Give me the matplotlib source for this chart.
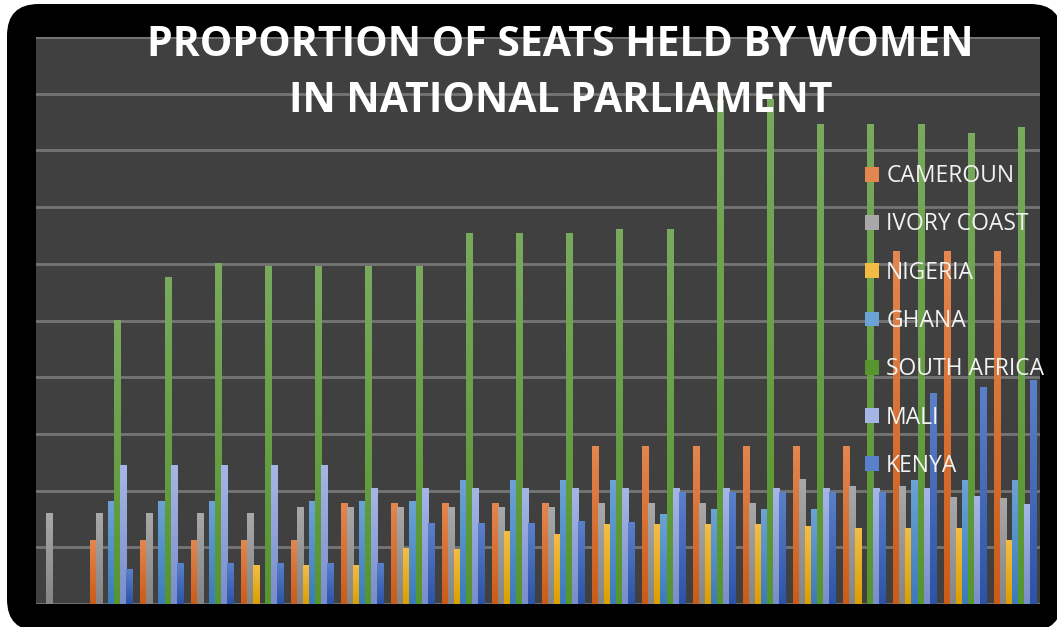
import numpy as np
import matplotlib
matplotlib.use("Agg")
import matplotlib.pyplot as plt
from matplotlib import font_manager
from matplotlib.colors import LinearSegmentedColormap
from matplotlib.patches import FancyBboxPatch, Patch

# Data (percent of seats held by women)
years = list(range(1997, 2017))
countries = ["CAMEROUN", "IVORY COAST", "NIGERIA", "GHANA", "SOUTH AFRICA", "MALI", "KENYA"]

cameroun = [0, 5.6, 5.6, 5.6, 5.6, 5.6, 8.9, 8.9, 8.9, 8.9, 8.9, 13.9, 13.9, 13.9, 13.9, 13.9, 13.9, 31.1, 31.1, 31.1]
ivory_coast = [8.0, 8.0, 8.0, 8.0, 8.0, 8.5, 8.5, 8.5, 8.5, 8.5, 8.5, 8.9, 8.9, 8.9, 8.9, 11.0, 10.4, 10.4, 9.4, 9.3]
nigeria = [0, 0, 0, 0, 3.4, 3.4, 3.4, 4.9, 4.8, 6.4, 6.1, 7.0, 7.0, 7.0, 7.0, 6.8, 6.7, 6.7, 6.7, 5.6]
ghana = [0, 9.0, 9.0, 9.0, 0, 9.0, 9.0, 9.0, 10.9, 10.9, 10.9, 10.9, 7.9, 8.3, 8.3, 8.3, 0, 10.9, 10.9, 10.9]
south_africa = [0, 25.0, 28.8, 30.0, 29.8, 29.8, 29.8, 29.8, 32.7, 32.7, 32.7, 33.0, 33.0, 44.4, 44.5, 42.3, 42.3, 42.3, 41.5, 42.0]
mali = [0, 12.2, 12.2, 12.2, 12.2, 12.2, 10.2, 10.2, 10.2, 10.2, 10.2, 10.2, 10.2, 10.2, 10.2, 10.2, 10.2, 10.2, 9.5, 8.8]
kenya = [0, 3.0, 3.6, 3.6, 3.6, 3.6, 3.6, 7.1, 7.1, 7.1, 7.3, 7.2, 9.8, 9.8, 9.8, 9.8, 9.8, 18.6, 19.1, 19.7]

series = [cameroun, ivory_coast, nigeria, ghana, south_africa, mali, kenya]

# (top, bottom) colours of each bar gradient
bar_colors = [
    ("#e3864f", "#cc5b18"),
    ("#a8a8a8", "#858585"),
    ("#f3bd45", "#dc9f00"),
    ("#6ca3d6", "#3b7bbb"),
    ("#79aa5d", "#57952f"),
    ("#a5b6e6", "#7a8dcb"),
    ("#5b80cb", "#2c53a6"),
]

# pick a narrow bold font for the title if one is around
font_names = {f.name for f in font_manager.fontManager.ttflist}
if "Liberation Sans Narrow" in font_names:
    title_font, title_size = "Liberation Sans Narrow", 34
else:
    title_font, title_size = "Open Sans", 29.5

fig = plt.figure(figsize=(10.57, 6.27), dpi=100, facecolor="white")

# black rounded frame behind the chart (white shows in the corners)
W, H = 1057, 627
frame = FancyBboxPatch((7 / W, -4 / H), (1062 - 7) / W, (623 + 4) / H,
                       boxstyle="round,pad=0,rounding_size=0.03",
                       transform=fig.transFigure, facecolor="black",
                       edgecolor="none", mutation_aspect=W / H, zorder=-10)
fig.patches.append(frame)

ax = fig.add_axes([36 / W, 1 - 604 / H, (1040 - 36) / W, (604 - 37) / H])
ax.set_facecolor("#404040")

x = np.arange(len(years))
n = len(series)
bar_w = 0.12
legend_handles = []

for k, (values, (top_c, bot_c)) in enumerate(zip(series, bar_colors)):
    offset = (k - (n - 1) / 2) * bar_w
    bars = ax.bar(x + offset, values, width=bar_w, color=bot_c, zorder=3)
    cmap = LinearSegmentedColormap.from_list(countries[k], [bot_c, top_c])
    grad = np.linspace(0, 1, 64).reshape(-1, 1)
    # paint a vertical gradient into each bar
    for b in bars:
        h = b.get_height()
        if h <= 0:
            continue
        ax.imshow(grad, extent=[b.get_x(), b.get_x() + b.get_width(), 0, h],
                  origin="lower", cmap=cmap, aspect="auto", zorder=3.5,
                  interpolation="bilinear")
    legend_handles.append(Patch(facecolor=(top_c if k != 4 else bot_c), edgecolor="none"))

ax.set_xlim(-0.5, len(years) - 0.5)
ax.set_ylim(0, 50)
ax.set_yticks(np.arange(0, 51, 5))
ax.yaxis.grid(True, color="#757575", linewidth=2)
ax.set_axisbelow(True)
ax.tick_params(left=False, bottom=False, labelleft=False, labelbottom=False)
for s in ax.spines.values():
    s.set_visible(False)

leg = ax.legend(legend_handles, countries, loc="upper left",
                bbox_to_anchor=((856 - 36) / (1040 - 36), 1 - (155 - 37) / (604 - 37)),
                frameon=False, labelcolor="#f2f2f2",
                handlelength=0.62, handleheight=0.62, handletextpad=0.3,
                labelspacing=1.06, borderaxespad=0,
                prop={"family": "Open Sans", "size": 16.5})
leg.set_zorder(10)

fig.text(560 / W, 1 - 46 / H, "PROPORTION OF SEATS HELD BY WOMEN",
         ha="center", va="center", color="white", fontsize=title_size,
         fontweight="bold", family=title_font)
fig.text(561 / W, 1 - 101 / H, "IN NATIONAL PARLIAMENT",
         ha="center", va="center", color="white", fontsize=title_size,
         fontweight="bold", family=title_font)

fig.savefig("out.png", dpi=100, facecolor="white")
